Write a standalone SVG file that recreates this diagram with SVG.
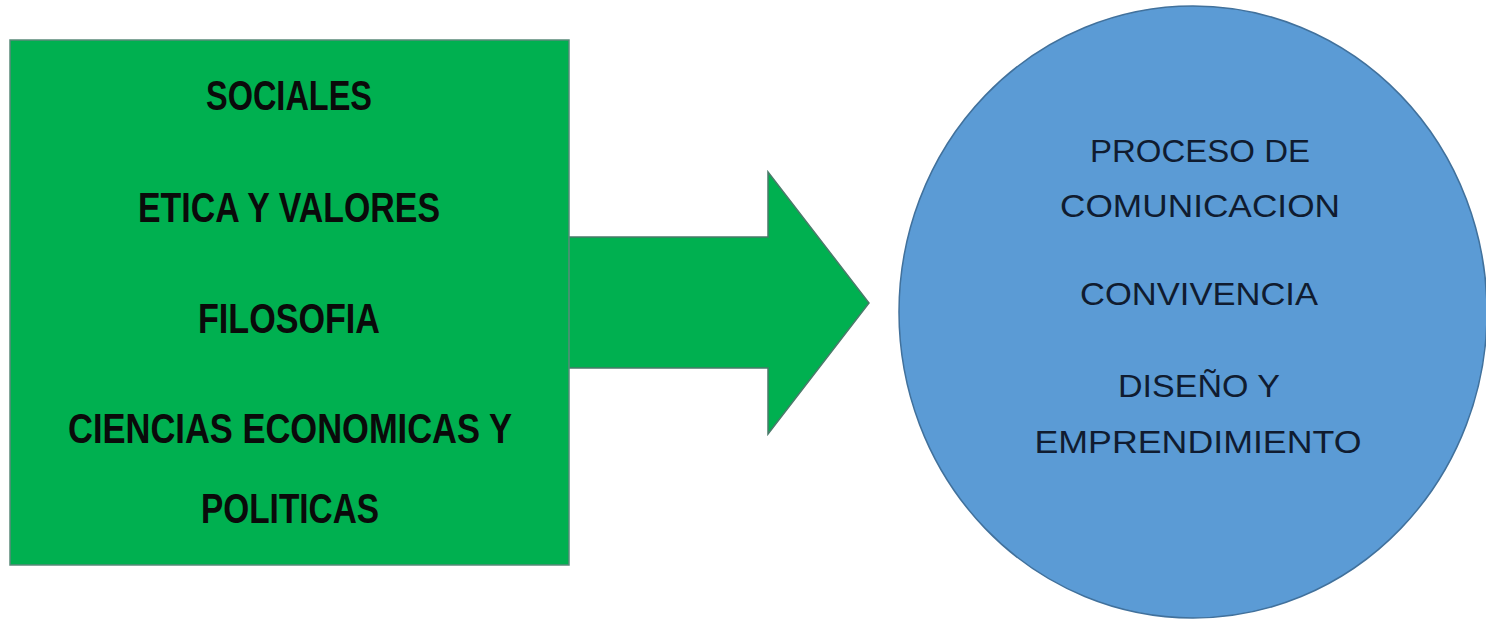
<svg xmlns="http://www.w3.org/2000/svg" width="1486" height="619" viewBox="0 0 1486 619">
<style>
.l{font-family:"Liberation Sans",Arial,sans-serif;font-weight:bold;font-size:42px;fill:#0a0a0a;text-anchor:middle}
.r{font-family:"Liberation Sans",Arial,sans-serif;font-size:31px;fill:#101c30;text-anchor:middle}
</style>
<rect width="1486" height="619" fill="#ffffff"/>
<g id="connectors">
<polygon points="567,237 768,237 768,172 869,303 768,434 768,368 567,368" fill="#00B050" stroke="#4a7a6a" stroke-width="1.5"/>
<rect x="566" y="238.5" width="6" height="128.5" fill="#00B050"/>
</g>
<g id="box">
<rect x="10" y="40" width="559" height="525" fill="#00B050" stroke="#5a8a7a" stroke-width="1.5"/>
<text class="l" x="289" y="110" textLength="166" lengthAdjust="spacingAndGlyphs">SOCIALES</text>
<text class="l" x="289" y="222" textLength="302" lengthAdjust="spacingAndGlyphs">ETICA Y VALORES</text>
<text class="l" x="289" y="333" textLength="182" lengthAdjust="spacingAndGlyphs">FILOSOFIA</text>
<text class="l" x="290" y="443" textLength="444" lengthAdjust="spacingAndGlyphs">CIENCIAS ECONOMICAS Y</text>
<text class="l" x="290" y="523" textLength="178" lengthAdjust="spacingAndGlyphs">POLITICAS</text>
</g>
<g id="circle">
<ellipse cx="1193" cy="312" rx="294" ry="306" fill="#5B9BD5" stroke="#41719C" stroke-width="1.5"/>
<text class="r" x="1200" y="162" textLength="220" lengthAdjust="spacingAndGlyphs">PROCESO DE</text>
<text class="r" x="1200" y="217" textLength="280" lengthAdjust="spacingAndGlyphs">COMUNICACION</text>
<text class="r" x="1199" y="305" textLength="238" lengthAdjust="spacingAndGlyphs">CONVIVENCIA</text>
<text class="r" x="1199" y="397" textLength="162" lengthAdjust="spacingAndGlyphs">DISEÑO Y</text>
<text class="r" x="1198" y="453" textLength="327" lengthAdjust="spacingAndGlyphs">EMPRENDIMIENTO</text>
</g>
</svg>
